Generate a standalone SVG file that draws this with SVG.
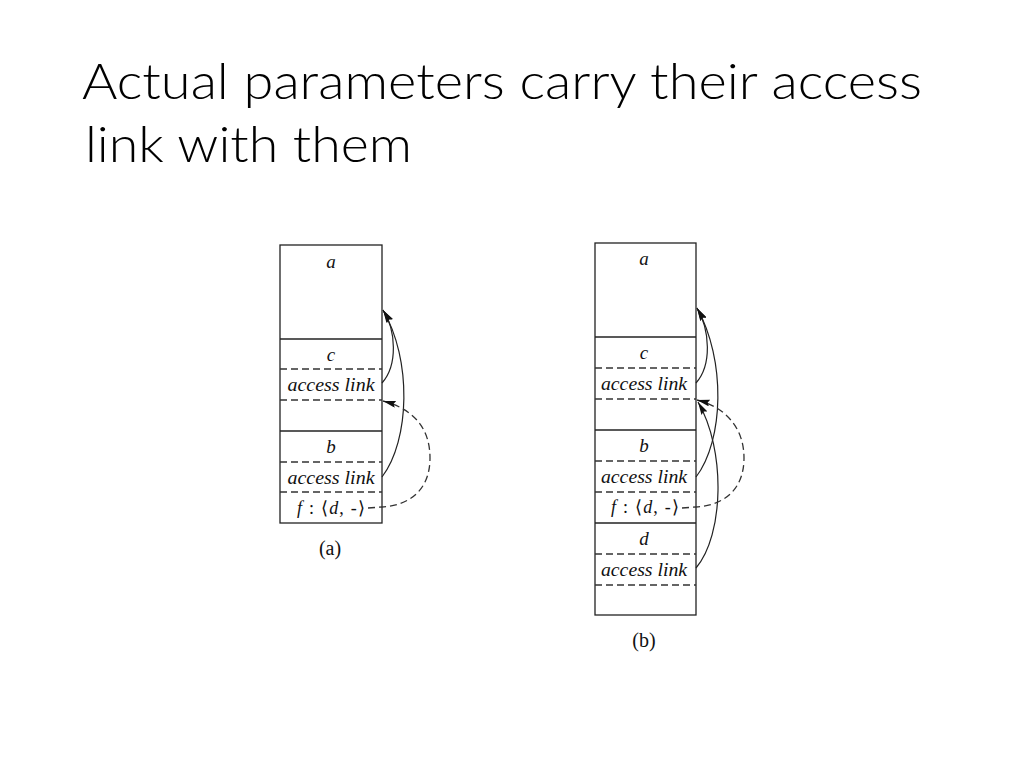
<svg xmlns="http://www.w3.org/2000/svg" width="1024" height="768" viewBox="0 0 1024 768">
  <style>
    .title { font-family: Lato, "Liberation Sans", sans-serif; font-weight: 300; font-size: 50px; fill: #000; }
    .box { fill: none; stroke: #222; stroke-width: 1.3; }
    .solid { stroke: #222; stroke-width: 1.3; }
    .dash { stroke: #333; stroke-width: 1.3; stroke-dasharray: 7 4; }
    .lbl { font-family: "Liberation Serif", "Times New Roman", serif; font-style: italic; font-size: 18px; fill: #111; text-anchor: middle; }
    .one { font-size: 19px; }
    .rom { font-style: normal; }
    .cap { font-family: "Liberation Serif", "Times New Roman", serif; font-size: 20px; fill: #111; text-anchor: middle; }
    .arc { fill: none; stroke: #222; stroke-width: 1.2; }
    .arcd { fill: none; stroke: #333; stroke-width: 1.3; stroke-dasharray: 7 4; }
  </style>
  <defs>
    <marker id="ah" viewBox="0 0 13 7" refX="13" refY="3.5" markerWidth="13" markerHeight="7" markerUnits="userSpaceOnUse" orient="auto">
      <path d="M0,0 L13,3.5 L0,7 L2,3.5 z" fill="#111"/>
    </marker>
  </defs>

  <g id="title">
    <text class="title" x="82" y="99" textLength="840" lengthAdjust="spacingAndGlyphs">Actual parameters carry their access</text>
    <text class="title" x="85" y="162" textLength="327" lengthAdjust="spacingAndGlyphs">link with them</text>
  </g>

  <!-- Stack (a) -->
  <g id="stack-a">
    <rect class="box" x="280" y="245" width="102" height="278"/>
    <line class="solid" x1="280" y1="339" x2="382" y2="339"/>
    <line class="dash" x1="280" y1="369" x2="382" y2="369"/>
    <line class="dash" x1="280" y1="400" x2="382" y2="400"/>
    <line class="solid" x1="280" y1="431" x2="382" y2="431"/>
    <line class="dash" x1="280" y1="462" x2="382" y2="462"/>
    <line class="dash" x1="280" y1="492" x2="382" y2="492"/>
    <text class="lbl one" x="331" y="268">a</text>
    <text class="lbl one" x="331" y="361">c</text>
    <text class="lbl" x="331" y="391" textLength="87" lengthAdjust="spacingAndGlyphs">access link</text>
    <text class="lbl one" x="331" y="453">b</text>
    <text class="lbl" x="331" y="484" textLength="87" lengthAdjust="spacingAndGlyphs">access link</text>
    <text class="lbl" x="331" y="514" textLength="68" lengthAdjust="spacing">f<tspan class="rom"> : ⟨</tspan>d<tspan class="rom">, -⟩</tspan></text>
    <text class="cap" x="330" y="555">(a)</text>
  </g>

  <!-- Stack (b) -->
  <g id="stack-b">
    <rect class="box" x="595" y="243" width="101" height="372"/>
    <line class="solid" x1="595" y1="337" x2="696" y2="337"/>
    <line class="dash" x1="595" y1="368" x2="696" y2="368"/>
    <line class="dash" x1="595" y1="399" x2="696" y2="399"/>
    <line class="solid" x1="595" y1="430" x2="696" y2="430"/>
    <line class="dash" x1="595" y1="461" x2="696" y2="461"/>
    <line class="dash" x1="595" y1="492" x2="696" y2="492"/>
    <line class="solid" x1="595" y1="523" x2="696" y2="523"/>
    <line class="dash" x1="595" y1="554" x2="696" y2="554"/>
    <line class="dash" x1="595" y1="585" x2="696" y2="585"/>
    <text class="lbl one" x="644" y="265">a</text>
    <text class="lbl one" x="644" y="359">c</text>
    <text class="lbl" x="644" y="390" textLength="86" lengthAdjust="spacingAndGlyphs">access link</text>
    <text class="lbl one" x="644" y="452">b</text>
    <text class="lbl" x="644" y="483" textLength="86" lengthAdjust="spacingAndGlyphs">access link</text>
    <text class="lbl" x="645" y="513" textLength="68" lengthAdjust="spacing">f<tspan class="rom"> : ⟨</tspan>d<tspan class="rom">, -⟩</tspan></text>
    <text class="lbl one" x="644" y="545">d</text>
    <text class="lbl" x="644" y="576" textLength="86" lengthAdjust="spacingAndGlyphs">access link</text>
    <text class="cap" x="644" y="647">(b)</text>
  </g>

  <g id="connectors">
    <!-- (a) -->
    <path class="arc" d="M382,383 C398,365 396,330 383,310" marker-end="url(#ah)"/>
    <path class="arc" d="M382,477 C410,440 412,360 383,310" marker-end="url(#ah)"/>
    <path class="arcd" d="M368,508 L382,507 C412,505 430,488 430,458 C430,425 410,408 383,401" marker-end="url(#ah)"/>
    <!-- (b) -->
    <path class="arc" d="M696,383 C712,365 710,330 697,308" marker-end="url(#ah)"/>
    <path class="arc" d="M696,477 C724,440 726,360 697,308" marker-end="url(#ah)"/>
    <path class="arc" d="M696,568 C724,535 726,450 698,402" marker-end="url(#ah)"/>
    <path class="arcd" d="M682,508 L696,507 C726,505 744,488 744,458 C744,425 722,406 697,400" marker-end="url(#ah)"/>
  </g>
</svg>
